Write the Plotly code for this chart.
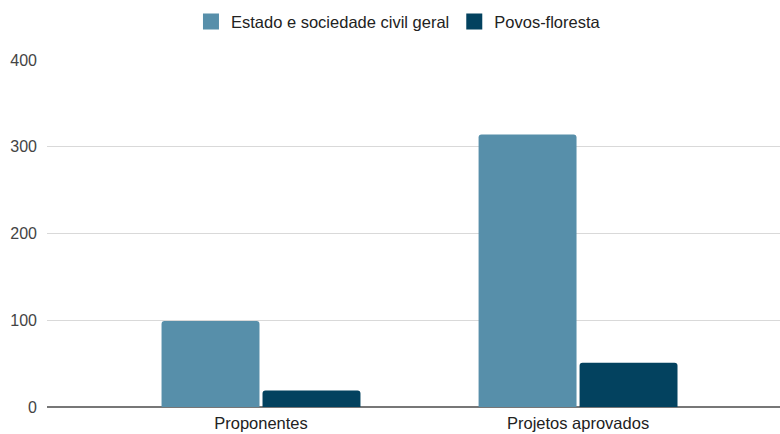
import plotly.graph_objects as go

# Categories and series values
categories = ["Proponentes", "Projetos aprovados"]
series_names = ["Estado e sociedade civil geral", "Povos-floresta"]
estado_values = [99, 314]
povos_values = [19, 51]
y_ticks = [0, 100, 200, 300, 400]

colors = ["#578FAA", "#03425F"]

fig = go.Figure()
fig.add_trace(go.Bar(x=categories, y=estado_values, name=series_names[0],
                     showlegend=False, legendgroup="a",
                     marker=dict(color=colors[0], line=dict(width=0))))
fig.add_trace(go.Bar(x=categories, y=povos_values, name=series_names[1],
                     showlegend=False, legendgroup="b",
                     marker=dict(color=colors[1], line=dict(width=0))))

# Legend entries with larger square swatches
for name, col, grp in zip(series_names, colors, ["a", "b"]):
    fig.add_trace(go.Scatter(x=[None], y=[None], mode="markers", name=name,
                             legendgroup=grp,
                             marker=dict(symbol="square", size=16, color=col)))

fig.update_layout(
    width=780, height=434,
    margin=dict(l=47, r=0, t=60, b=27),
    paper_bgcolor="white", plot_bgcolor="white",
    barmode="group", bargap=0.363, bargroupgap=0.03,
    barcornerradius=3,
    font=dict(family="Arial, Liberation Sans, sans-serif", size=16, color="#444"),
    showlegend=True,
    legend=dict(orientation="h", x=0.4795, xanchor="center", y=1.11, yanchor="middle",
                font=dict(size=16.5, color="#222"), itemwidth=30,
                bgcolor="rgba(0,0,0,0)"),
    xaxis=dict(range=[-0.675, 1.637], showgrid=False, ticks="",
               tickfont=dict(size=16.5, color="#222"), showline=False, zeroline=False,
               ticklabelstandoff=4, automargin=False),
    yaxis=dict(range=[0, 400], tickvals=y_ticks, showgrid=True, gridcolor="#d9d9d9",
               gridwidth=1, zeroline=True, zerolinecolor="#777", zerolinewidth=2,
               ticks="", ticklabelstandoff=9, tickfont=dict(size=16, color="#444"),
               automargin=False),
)

fig.write_html("out.html")
